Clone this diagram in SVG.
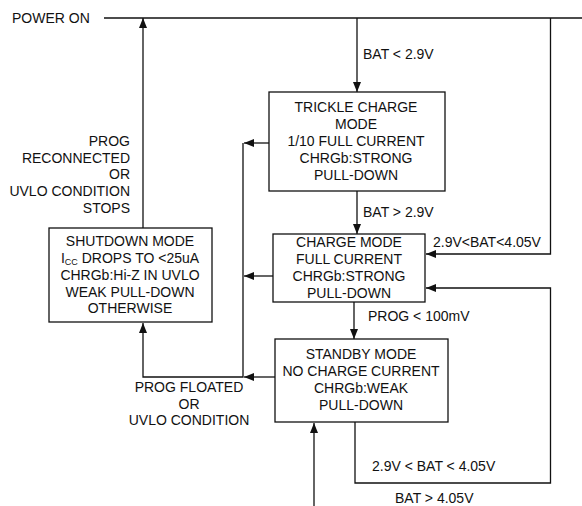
<svg xmlns="http://www.w3.org/2000/svg" width="582" height="506" viewBox="0 0 582 506">
<style>
text{font-family:"Liberation Sans",Arial,sans-serif;font-size:14px;fill:#111}
.c{text-anchor:middle}
.r{text-anchor:end}
.box{fill:#fff;stroke:#111;stroke-width:1.3}
.ln{fill:none;stroke:#111;stroke-width:1.3}
</style>
<defs>
<marker id="ah" markerUnits="userSpaceOnUse" markerWidth="10" markerHeight="8" refX="10" refY="4" orient="auto">
<path d="M0,0 L10,4 L0,8 z" fill="#111"/>
</marker>
</defs>
<rect width="582" height="506" fill="#fff"/>
<g id="connectors">
<path class="ln" d="M104,18 H582"/>
<path class="ln" d="M143,228 V18" marker-end="url(#ah)"/>
<path class="ln" d="M357,18 V92" marker-end="url(#ah)"/>
<path class="ln" d="M550.5,18 V254 H426" marker-end="url(#ah)"/>
<path class="ln" d="M357,191 V234" marker-end="url(#ah)"/>
<path class="ln" d="M354,302 V339" marker-end="url(#ah)"/>
<path class="ln" d="M355,422 V483 H550.5 V288 H426" marker-end="url(#ah)"/>
<path class="ln" d="M314,506 V423" marker-end="url(#ah)"/>
<path class="ln" d="M269,143 H244" marker-end="url(#ah)"/>
<path class="ln" d="M273,276 H244" marker-end="url(#ah)"/>
<path class="ln" d="M275,377 H244" marker-end="url(#ah)"/>
<path class="ln" d="M243,143 V377 H143 V323" marker-end="url(#ah)"/>
<text x="12" y="23">POWER ON</text>
<text x="363" y="59">BAT &lt; 2.9V</text>
<text x="363" y="217">BAT &gt; 2.9V</text>
<text x="433" y="247">2.9V&lt;BAT&lt;4.05V</text>
<text x="368" y="321">PROG &lt; 100mV</text>
<text x="372" y="471">2.9V &lt; BAT &lt; 4.05V</text>
<text x="395" y="503">BAT &gt; 4.05V</text>
<text class="r" x="130" y="146">PROG</text>
<text class="r" x="130" y="163">RECONNECTED</text>
<text class="r" x="130" y="179">OR</text>
<text class="r" x="130" y="196">UVLO CONDITION</text>
<text class="r" x="130" y="213">STOPS</text>
<text class="c" x="189" y="392">PROG FLOATED</text>
<text class="c" x="189" y="409">OR</text>
<text class="c" x="189" y="425">UVLO CONDITION</text>
</g>
<g id="trickle">
<rect class="box" x="269" y="92" width="176" height="99"/>
<text class="c" x="356" y="112">TRICKLE CHARGE</text>
<text class="c" x="356" y="129">MODE</text>
<text class="c" x="356" y="146">1/10 FULL CURRENT</text>
<text class="c" x="356" y="163">CHRGb:STRONG</text>
<text class="c" x="356" y="180">PULL-DOWN</text>
</g>
<g id="charge">
<rect class="box" x="273" y="234" width="152" height="68"/>
<text class="c" x="349" y="247">CHARGE MODE</text>
<text class="c" x="349" y="264">FULL CURRENT</text>
<text class="c" x="349" y="281">CHRGb:STRONG</text>
<text class="c" x="349" y="298">PULL-DOWN</text>
</g>
<g id="standby">
<rect class="box" x="275" y="339" width="173" height="83"/>
<text class="c" x="361" y="359">STANDBY MODE</text>
<text class="c" x="361" y="376">NO CHARGE CURRENT</text>
<text class="c" x="361" y="393">CHRGb:WEAK</text>
<text class="c" x="361" y="410">PULL-DOWN</text>
</g>
<g id="shutdown">
<rect class="box" x="49" y="228" width="163" height="94"/>
<text class="c" x="130" y="246">SHUTDOWN MODE</text>
<text class="c" x="130" y="263">I<tspan font-size="9" dy="2">CC</tspan><tspan dy="-2"> DROPS TO &lt;25uA</tspan></text>
<text class="c" x="130" y="280">CHRGb:Hi-Z IN UVLO</text>
<text class="c" x="130" y="297">WEAK PULL-DOWN</text>
<text class="c" x="130" y="313">OTHERWISE</text>
</g>
</svg>
